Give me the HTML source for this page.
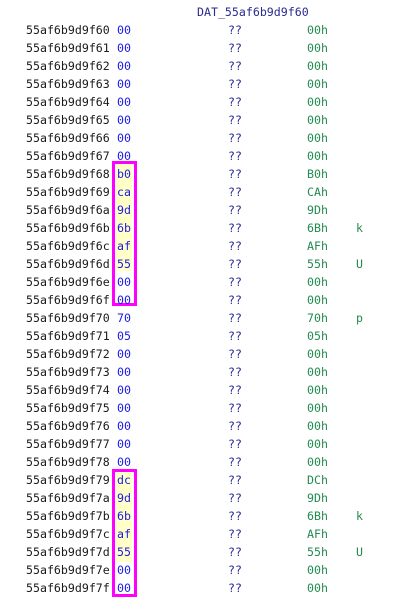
<!DOCTYPE html>
<html><head><style>
body{margin:0;width:407px;height:598px;background:#fff;position:relative;overflow:hidden;font-family:"DejaVu Sans Mono","Liberation Mono",monospace;font-size:11.6px}
div.t{position:absolute;line-height:14px;white-space:pre}
.a{left:26px;color:#1a1a1a}
.h{left:117px;color:#1a1ae6}
.q{left:228px;color:#2a2a90}
.v{left:307px;color:#238a50}
.c{left:356px;color:#238a50}
.box{position:absolute;border:3px solid #ff00ff;box-sizing:border-box}
.y{position:absolute;background:#ffffc8}
</style></head><body>
<div class="y" style="left:116px;top:163px;width:16px;height:108px"></div>
<div class="y" style="left:116px;top:472px;width:16px;height:90px"></div>
<div class="box" style="left:112px;top:161px;width:25px;height:145px"></div>
<div class="box" style="left:112px;top:469px;width:25px;height:128px"></div>
<div class="t" style="left:197px;top:5px;color:#2a2a90">DAT_55af6b9d9f60</div>
<div id="rows"></div>
<script>
var hex=["00","00","00","00","00","00","00","00","b0","ca","9d","6b","af","55","00","00","70","05","00","00","00","00","00","00","00","dc","9d","6b","af","55","00","00"];
var ch={11:"k",13:"U",16:"p",27:"k",29:"U"};
var h="";
for(var i=0;i<32;i++){var y=23+18*i;var ad="55af6b9d9f"+(0x60+i).toString(16);
h+='<div class="t a" style="top:'+y+'px">'+ad+'</div><div class="t h" style="top:'+y+'px">'+hex[i]+'</div><div class="t q" style="top:'+y+'px">??</div><div class="t v" style="top:'+y+'px">'+hex[i].toUpperCase()+'h</div>';
if(ch[i])h+='<div class="t c" style="top:'+y+'px">'+ch[i]+'</div>';}
document.getElementById("rows").innerHTML=h;
</script>
</body></html>
